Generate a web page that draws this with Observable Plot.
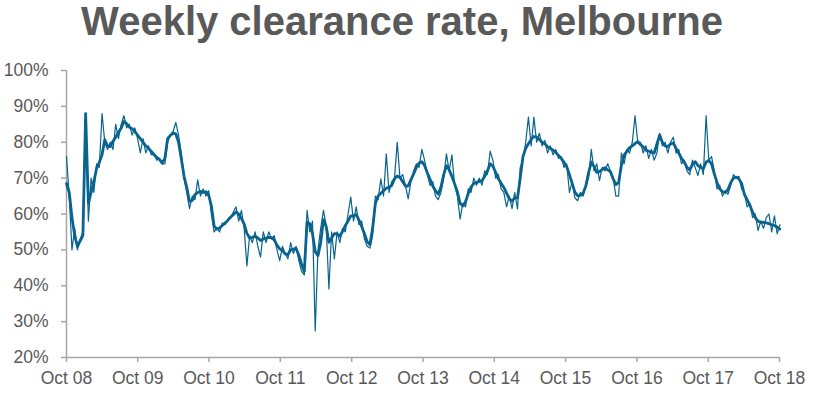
<!DOCTYPE html>
<html><head><meta charset="utf-8">
<script src="https://cdn.jsdelivr.net/npm/d3@7"></script>
<script src="https://cdn.jsdelivr.net/npm/@observablehq/plot@0.6"></script>
<style>
body{margin:0;background:#fff;font-family:"Liberation Sans",Arial,sans-serif;}
#wrap{position:relative;width:814px;height:394px;overflow:hidden;}
#title{position:absolute;left:0;top:-1px;width:804px;text-align:center;font-weight:bold;font-size:40px;color:#595959;line-height:44px;}
#chart{position:absolute;left:0;top:55px;}
</style></head><body>
<div id="wrap"><div id="title">Weekly clearance rate, Melbourne</div><div id="chart"></div></div>
<script>
// Fortnightly readings starting 1 Oct 2008
const startDate = "2008-10-01";
const stepDays = 14;
// Thin line: weekly clearance rate (%)
const weekly = [
76,65,50,56,50,53,55,88,58,70,
66,74,73,88,80,78,80,78,85,81,
85,87.4,84,85,82,84,81,77,81,77,
79,76.5,77,75,75.5,74,74,80,82,83,
85.5,82,77,70,66,61.5,65,64,69.5,65,
67,65,66.5,60,55,56,55,57.5,57,58.5,
59,60.5,62,58,61,56,45.5,54,52,55,
51,48,55,52,55,53,54,50,47,51,
49,47.5,52,49,51,47,44,43,61,55,
58,27.4,50,56,61,57,39.1,55,47.5,55,
52,56,55,60,64.7,58,62,57,58,53,
51,50.5,54,65,64,69.8,65,76.8,66,69,
70,80,70,71,68,64.2,69,72,74,73,
78,75,71,68,69,65,64,66,70,76.8,
72,76.5,68,65,58.6,63,62,67,66,70,
68,70,68,72,71,77.5,75,70,71,67,
66,62,65,61.5,66,61.4,73,75,80,87,
79,87,80,82.5,79,80.5,77,79,76.5,78,
75.5,76,73,74,66,69,64.5,63.7,66,65,
68,70,78,72,74,69.3,73,72,74,72,
70,65,65,77,74,78,77,80,87.4,80,
80,77,79,75.5,78,75,77,82.5,79,80,
77,80,81.4,77,78,74,75,72,71,75,
73,70.7,74,71,87.4,75,76,72,67,68,
65,66.5,65.5,68,71,70,70.5,67,66,62,
63,59,60,55.4,58,56,59,60,55,59.5,
54.5,57
];
// Thick line: smoothed clearance rate (%)
const smoothed = [
68.5,66,59,54,51,52.5,54,88,63,66,
69,72.7,74.4,76.5,80.7,79,78.8,80.3,81.4,82.8,
83.9,85.8,85.2,84.2,83.8,83,82,81,80,79,
78.3,77.5,76.5,75.8,75.2,74.2,75.5,81,81.9,82.6,
82.3,80,75.5,70.5,67.4,63.5,63.8,65.4,66,66.3,
66,66.2,65.3,62.3,56.7,55.8,56.1,56.8,57.5,58.2,
59.1,59.8,60.6,60,58.7,57.2,54.6,53.3,53.5,53.8,
53.3,52.6,53,53.3,53.5,53.4,52.8,51.3,50.3,49.8,
48.9,48.7,50,50.2,50.4,48.5,46,44,57.7,57.3,
54.5,49.5,48.4,52,58.4,56.5,52.1,53.3,54.5,54.5,
53.8,55.2,56.8,58,59.5,59.5,59.8,58.3,56.5,54.5,
52.3,51.5,56,63,65,65.8,66.5,67.2,67.4,68,
69.8,70.6,70.2,69,67.8,67.8,69.5,71.2,73,74.2,
74.6,73.5,71.5,69.7,67.8,66.5,65.5,67.5,71,73.5,
72.3,70.5,68.4,66.2,63,62.2,63.5,65.7,67.5,68.5,
68.8,69.1,69.3,70.5,72,74,73.3,71.6,69.8,68.6,
67.4,65.8,64.2,63.6,64.5,64.5,70,76,78.3,79.6,
80.8,81.6,81.4,80.8,80,79.6,78.7,78.3,77.8,77.2,
76.3,75.5,74.4,73.2,71,68.5,66.1,65.1,65.2,65.8,
67.8,71.5,74.5,73.2,71.6,71.8,72.4,72.9,72.3,71.8,
69.8,68.2,68.8,73.5,76.4,77.5,78.5,79,79.6,80.2,
79.3,78.7,77.8,77.5,77.2,77,79.5,82,80,79,
78.8,79.5,79.8,78.3,77,75.5,74.5,73,72.3,73.8,
74.6,73.5,73,72.6,74.5,74.9,74,71.2,68.8,67,
66.2,66,66.8,68.7,70,70.3,69.8,68.5,65.5,64,
62.5,60.5,59,58,57.7,57.7,57.5,57.3,57,56.8,
56.3,55.8
];
const xTicks = ["2008-10-01","2009-10-01","2010-10-01","2011-10-01","2012-10-01","2013-10-01",
                "2014-10-01","2015-10-01","2016-10-01","2017-10-01","2018-10-01"];
const xTickLabels = ["Oct 08","Oct 09","Oct 10","Oct 11","Oct 12","Oct 13","Oct 14","Oct 15","Oct 16","Oct 17","Oct 18"];
const yTicks = [20,30,40,50,60,70,80,90,100];

const start = new Date(startDate + "T00:00:00Z");
const data = weekly.map((v, i) => ({date: d3.utcDay.offset(start, i * stepDays), weekly: v, smoothed: smoothed[i]}));
const tickDates = xTicks.map(s => new Date(s + "T00:00:00Z"));
const labelOf = d => xTickLabels[tickDates.findIndex(t => +t === +d)];

const lineColor = "#08638f";
const axisColor = "#a6a6a6";
const textColor = "#595959";

const chart = Plot.plot({
  width: 814,
  height: 339,
  marginLeft: 66,
  marginRight: 35,
  marginTop: 15,
  marginBottom: 37,
  style: {fontFamily: "'Liberation Sans', Arial, sans-serif", fontSize: "17.5px", color: textColor, background: "white"},
  x: {type: "utc", domain: [tickDates[0], tickDates[tickDates.length - 1]]},
  y: {domain: [20, 100]},
  marks: [
    Plot.ruleY([20], {stroke: axisColor, strokeWidth: 1.5}),
    Plot.ruleX([tickDates[0]], {stroke: axisColor, strokeWidth: 1.5}),
    Plot.axisX(tickDates, {tickSize: 5, tickPadding: 9, stroke: axisColor, strokeWidth: 1.5, fill: textColor, tickFormat: labelOf, label: null}),
    Plot.axisY(yTicks, {tickSize: 5, tickPadding: 13, stroke: axisColor, strokeWidth: 1.5, fill: textColor, tickFormat: d => d + "%", label: null}),
    Plot.lineY(data, {x: "date", y: "weekly", stroke: lineColor, strokeWidth: 1.2}),
    Plot.lineY(data, {x: "date", y: "smoothed", stroke: lineColor, strokeWidth: 2.8})
  ]
});
document.getElementById("chart").appendChild(chart);
</script>
</body></html>
